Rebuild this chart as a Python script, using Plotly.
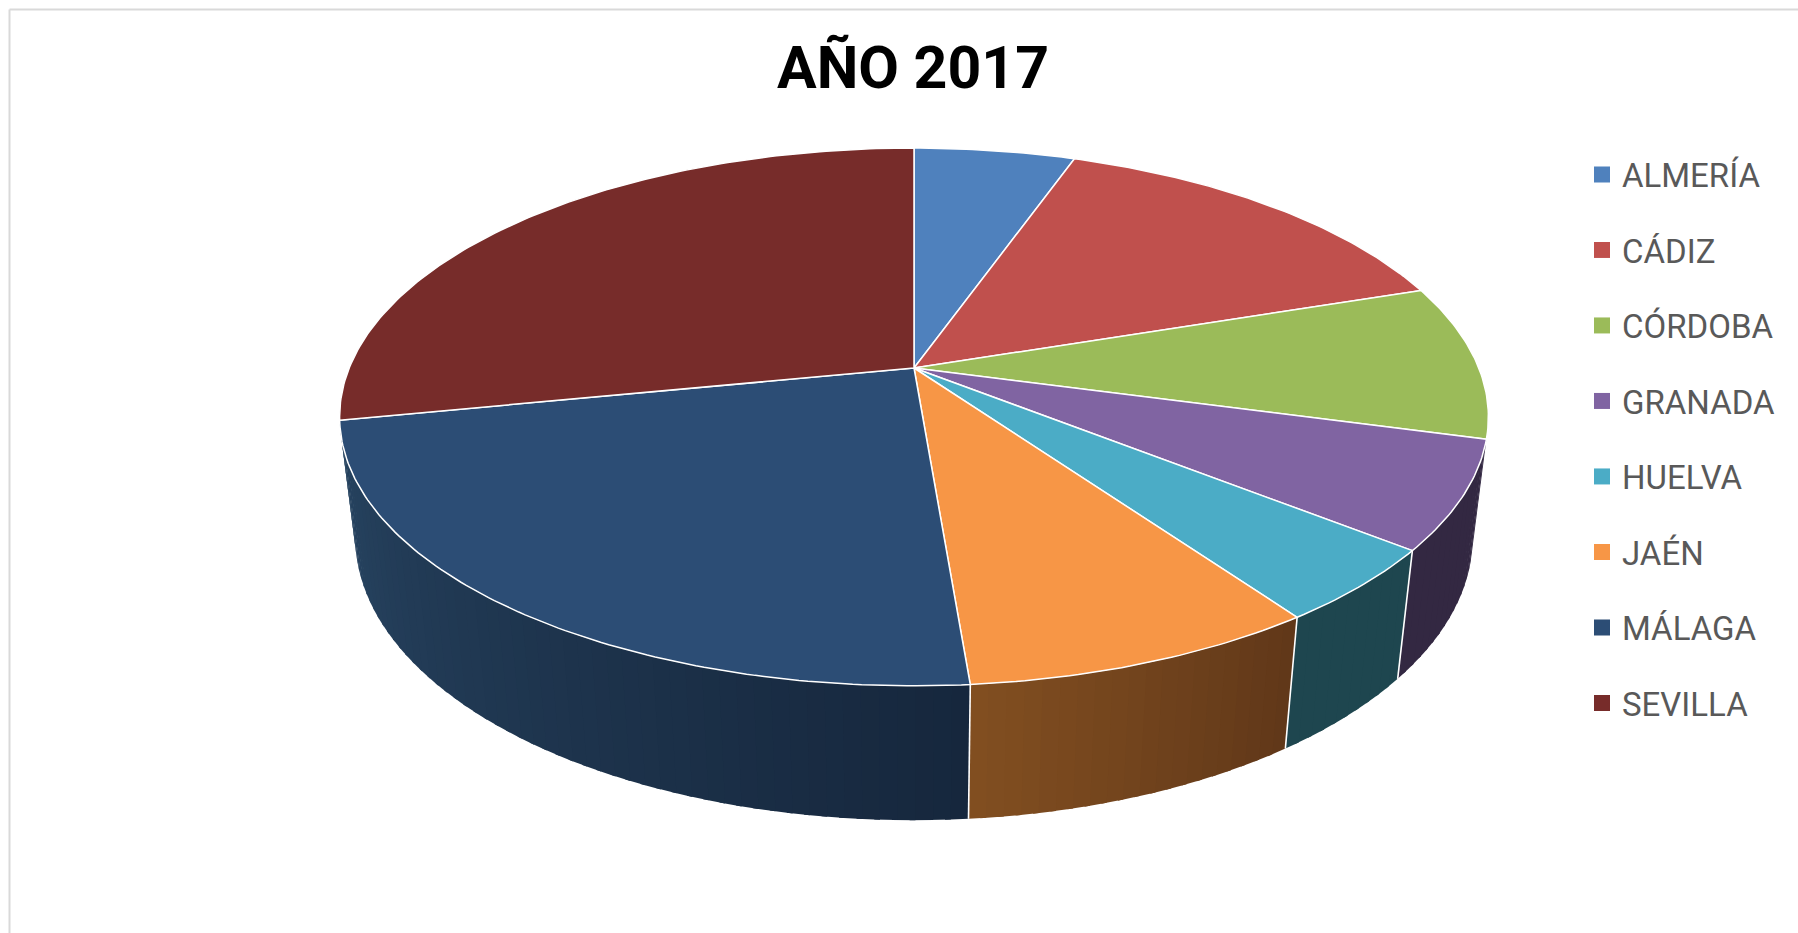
import math
import plotly.graph_objects as go

TITLE = "AÑO 2017"
provinces = ["ALMERÍA", "CÁDIZ", "CÓRDOBA", "GRANADA", "HUELVA", "JAÉN", "MÁLAGA", "SEVILLA"]
shares = [5.4, 14.5, 9.3, 6.5, 4.5, 8.5, 23.2, 28.1]
top_colors = ["#4F81BD", "#C0504D", "#9BBB59", "#8064A2", "#4BACC6", "#F79646", "#2C4D75", "#772C2A"]
wall_left = [None, None, None, "#332842", "#1E464F", "#814E20", "#274461", None]
wall_right = [None, None, None, "#332842", "#1E464F", "#613819", "#16273D", None]

CX, CY, A, B, K, E, M = 914, 368, 564.8, 260.0, 0.182, 122.1, 0.027
FONT = "Roboto, Liberation Sans, sans-serif"


def project(deg, r=1.0, z=0.0):
    t = math.radians(deg)
    x, y = r * math.sin(t), -r * math.cos(t)
    w = 1 - K * y + M * z
    return CX + A * x / w, CY + (B * y + E * z) / w


def hex_mix(c1, c2, f):
    a = [int(c1[i:i + 2], 16) for i in (1, 3, 5)]
    b = [int(c2[i:i + 2], 16) for i in (1, 3, 5)]
    return "#" + "".join(f"{round(p + (q - p) * f):02x}" for p, q in zip(a, b))


total = sum(shares)
edges = [0.0]
for s in shares:
    edges.append(edges[-1] + s / total * 360)

fig = go.Figure()

# side walls (narrow strips so the shading can vary from right to left)
for i in range(len(provinces)):
    if wall_left[i] is None:
        continue
    a0, a1 = edges[i], edges[i + 1]
    n = max(1, int((a1 - a0) / 1.5))
    for j in range(n):
        s0 = a0 + (a1 - a0) * j / n
        s1 = a0 + (a1 - a0) * (j + 1) / n
        if j < n - 1:
            s1 += 0.5  # overlap the next strip to hide seams
        p = [project(s0), project(s1), project(s1, z=1), project(s0, z=1)]
        col = hex_mix(wall_right[i], wall_left[i], j / max(1, n - 1))
        fig.add_trace(go.Scatter(
            x=[q[0] for q in p] + [p[0][0]], y=[q[1] for q in p] + [p[0][1]],
            mode="lines", fill="toself", fillcolor=col,
            line=dict(color=col, width=0), showlegend=False, hoverinfo="skip"))

# white seams between the walls
for i in (4, 5, 6):
    a = edges[i]
    p0, p1 = project(a), project(a, z=1)
    fig.add_trace(go.Scatter(x=[p0[0], p1[0]], y=[p0[1], p1[1]], mode="lines",
                             line=dict(color="#FFFFFF", width=1.6),
                             showlegend=False, hoverinfo="skip"))

# top face wedges
for i, name in enumerate(provinces):
    a0, a1 = edges[i], edges[i + 1]
    n = max(2, int((a1 - a0) / 0.75))
    pts = [project(a0 + (a1 - a0) * j / n) for j in range(n + 1)]
    xs = [CX] + [q[0] for q in pts] + [CX]
    ys = [CY] + [q[1] for q in pts] + [CY]
    fig.add_trace(go.Scatter(x=xs, y=ys, mode="lines", fill="toself",
                             fillcolor=top_colors[i],
                             line=dict(color="#FFFFFF", width=1.5),
                             showlegend=False, name=name,
                             hovertemplate=f"{name}: {shares[i]}%<extra></extra>"))

# legend entries
for i, name in enumerate(provinces):
    fig.add_trace(go.Scatter(x=[None], y=[None], mode="markers", name=name, legendgroup=name,
                             marker=dict(symbol="square", size=16, color=top_colors[i]),
                             showlegend=True))

fig.update_layout(
    width=1798, height=933, margin=dict(l=0, r=0, t=0, b=0),
    paper_bgcolor="#FFFFFF", plot_bgcolor="#FFFFFF",
    xaxis=dict(range=[0, 1798], visible=False, fixedrange=True),
    yaxis=dict(range=[933, 0], visible=False, fixedrange=True),
    title=dict(text=f"<b>{TITLE}</b>", x=913 / 1798, xanchor="center",
               y=1 - 67 / 933, yanchor="middle",
               font=dict(family=FONT, size=59, color="#000000")),
    legend=dict(x=1582 / 1798, xanchor="left", y=1 - 146.5 / 933, yanchor="top",
                font=dict(family=FONT, size=33, color="#595959"),
                tracegroupgap=29.6, bgcolor="rgba(0,0,0,0)"),
    shapes=[
        dict(type="line", xref="paper", yref="paper", x0=9.5 / 1798, x1=9.5 / 1798, y0=0, y1=1 - 9.5 / 933,
             line=dict(color="#D9D9D9", width=2)),
        dict(type="line", xref="paper", yref="paper", x0=9.5 / 1798, x1=1, y0=1 - 9.5 / 933, y1=1 - 9.5 / 933,
             line=dict(color="#D9D9D9", width=2)),
    ],
)

fig.write_html("out.html", config={"displayModeBar": False},
               post_script="document.body.style.margin='0';")
